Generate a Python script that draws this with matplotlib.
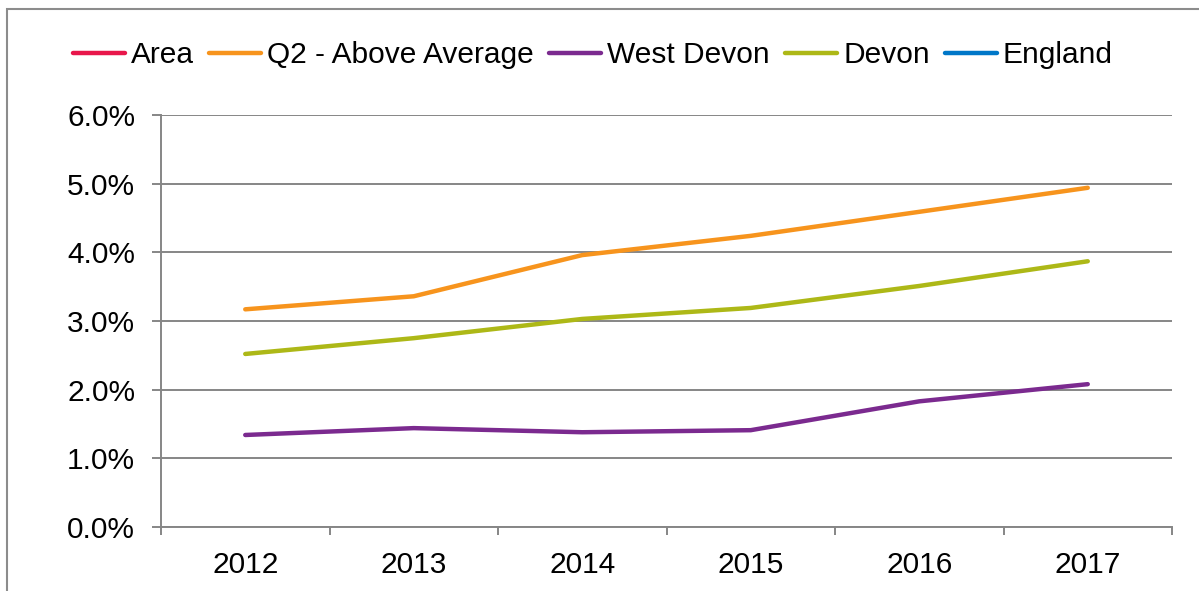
import matplotlib
matplotlib.use("Agg")
import matplotlib.pyplot as plt
from matplotlib.patches import Rectangle
from matplotlib.lines import Line2D
from matplotlib.ticker import FixedLocator, FuncFormatter

plt.rcParams['font.family'] = ['Liberation Sans', 'DejaVu Sans']

years = ["2012", "2013", "2014", "2015", "2016", "2017"]
q2_above = [3.17, 3.36, 3.96, 4.24, 4.59, 4.94]
west_devon = [1.34, 1.44, 1.38, 1.41, 1.83, 2.08]
devon = [2.52, 2.75, 3.03, 3.19, 3.51, 3.87]
area = []
england = []

series_names = ["Area", "Q2 - Above Average", "West Devon", "Devon", "England"]
colors = ["#E8174B", "#F7941D", "#7B2A8F", "#ADB817", "#0077C8"]
yticks = [0, 1, 2, 3, 4, 5, 6]

W, H = 1199, 591
fig = plt.figure(figsize=(W/100, H/100), dpi=100)
ax = fig.add_axes([161/W, 1 - 527/H, (1172-161)/W, (527-115)/H])

grid_col = "#868686"
x = [i + 0.5 for i in range(len(years))]
data = {"Area": area, "Q2 - Above Average": q2_above, "West Devon": west_devon,
        "Devon": devon, "England": england}
for name, c in zip(series_names, colors):
    vals = data[name]
    if vals:
        ax.plot(x[:len(vals)], vals, color=c, lw=3.2, solid_capstyle='round', zorder=3)

ax.set_xlim(0, len(years))
ax.set_ylim(0, 6)
ax.yaxis.set_major_locator(FixedLocator(yticks))
ax.yaxis.set_major_formatter(FuncFormatter(lambda v, p: f"{v:.1f}%"))
ax.grid(axis='y', color=grid_col, lw=1.4, zorder=1)
ax.set_axisbelow(True)

ax.xaxis.set_major_locator(FixedLocator(range(len(years) + 1)))
ax.xaxis.set_major_formatter(FuncFormatter(lambda v, p: ""))
ax.xaxis.set_minor_locator(FixedLocator(x))
ax.set_xticklabels(years, minor=True)
ax.tick_params(axis='x', which='major', length=6, width=1.4, color=grid_col, direction='out')
ax.tick_params(axis='x', which='minor', length=0, pad=17, labelsize=21.5)
ax.tick_params(axis='y', which='major', length=6.5, width=1.4, color=grid_col, direction='out',
               labelsize=21.5, pad=12)

for s in ['top', 'right']:
    ax.spines[s].set_visible(False)
for s in ['left', 'bottom']:
    ax.spines[s].set_color(grid_col)
    ax.spines[s].set_linewidth(1.4)

handles = [Line2D([], [], color=c, lw=3.2, solid_capstyle='round') for c in colors]
fig.legend(handles, series_names, loc='center', bbox_to_anchor=(593/W, 1 - 55/H),
           ncol=5, frameon=False, fontsize=21.5, handlelength=1.75, handletextpad=0.2,
           columnspacing=0.5, borderpad=0)

fig.patches.append(Rectangle((7/W, -0.1), 1.2, 1 - 9/H + 0.1, transform=fig.transFigure,
                             fill=False, edgecolor="#8c8c8c", lw=1.5))

fig.savefig("out.png", dpi=100)
